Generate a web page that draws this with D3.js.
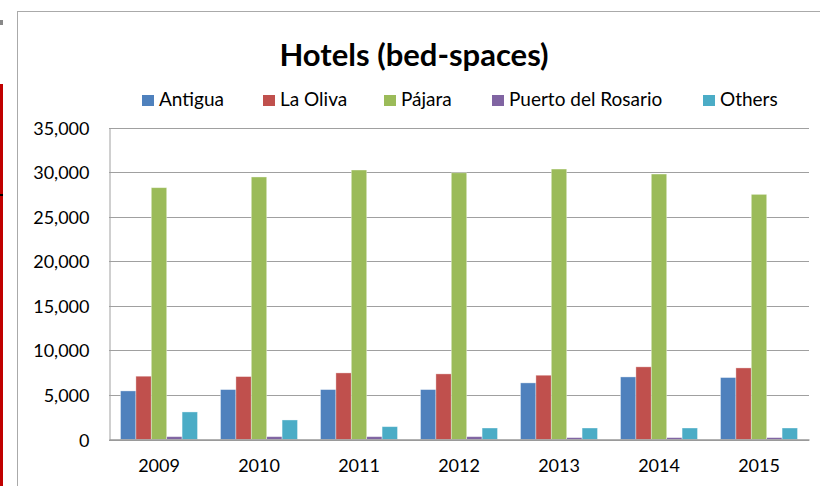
<!DOCTYPE html>
<html>
<head>
<meta charset="utf-8">
<script src="https://cdn.jsdelivr.net/npm/d3@7"></script>
<style>
  body { margin: 0; background: #fff; }
  svg { display: block; }
  text { font-family: Lato, "Open Sans", sans-serif; fill: #000; }
</style>
</head>
<body>
<svg width="820" height="486"></svg>
<script>
  // data
  const years = ["2009", "2010", "2011", "2012", "2013", "2014", "2015"];
  const series = ["Antigua", "La Oliva", "Pájara", "Puerto del Rosario", "Others"];
  const antigua = [5450, 5600, 5600, 5600, 6350, 7020, 6950];
  const laOliva = [7100, 7060, 7470, 7360, 7210, 8150, 8030];
  const pajara = [28250, 29450, 30230, 29920, 30340, 29780, 27500];
  const puerto = [320, 320, 320, 320, 210, 210, 210];
  const others = [3090, 2190, 1440, 1290, 1290, 1290, 1290];
  const yTicks = [0, 5000, 10000, 15000, 20000, 25000, 30000, 35000];
  const colors = ["#4F81BD", "#C0504D", "#9BBB59", "#8064A2", "#4BACC6"];

  const values = [antigua, laOliva, pajara, puerto, others];

  const svg = d3.select("svg");

  // page decorations around the chart frame
  svg.append("rect").attr("x", 0).attr("y", 84).attr("width", 3).attr("height", 402).attr("fill", "#C00000");
  svg.append("rect").attr("x", 0).attr("y", 194).attr("width", 3).attr("height", 2).attr("fill", "#000");
  svg.append("rect").attr("x", 0).attr("y", 20).attr("width", 3).attr("height", 5).attr("fill", "#888");
  svg.append("rect")
    .attr("x", 17.5).attr("y", 11.5)
    .attr("width", 820).attr("height", 500)
    .attr("fill", "#fff").attr("stroke", "#aaa").attr("stroke-width", 1);

  const plotLeft = 109, plotRight = 809, plotTop = 127.5, plotBottom = 439.5;

  const x = d3.scaleBand().domain(years).range([plotLeft, plotRight]);
  const xInner = d3.scaleBand().domain(series).range([11.5, 88.5]);
  const y = d3.scaleLinear().domain([0, 35000]).range([plotBottom, plotTop]);

  // gridlines
  svg.append("g")
    .selectAll("line")
    .data(yTicks)
    .join("line")
    .attr("x1", plotLeft).attr("x2", plotRight)
    .attr("y1", d => Math.round(y(d)) + 0.5).attr("y2", d => Math.round(y(d)) + 0.5)
    .attr("stroke", "#a0a0a0");

  // y axis
  const yAxis = svg.append("g")
    .attr("transform", `translate(${plotLeft + 0.5},0)`)
    .call(d3.axisLeft(y).tickValues(yTicks).tickFormat(d3.format(",")).tickSize(0).tickPadding(20));
  yAxis.select(".domain").attr("stroke", "#a0a0a0");
  yAxis.selectAll("text").style("font-size", "18px").attr("dy", "0.36em");
  yAxis.selectAll(".tick").attr("transform", d => `translate(0,${Math.round(y(d)) + 0.5})`);

  // bars
  const groups = svg.append("g")
    .selectAll("g")
    .data(series)
    .join("g")
    .attr("fill", (d, i) => colors[i]);

  groups.selectAll("rect")
    .data((s, i) => values[i].map((v, j) => ({ s, year: years[j], v })))
    .join("rect")
    .attr("x", d => x(d.year) + xInner(d.s))
    .attr("width", xInner.bandwidth())
    .attr("y", d => y(d.v))
    .attr("height", d => y(0) - y(d.v))
    .attr("stroke", "rgba(255,255,255,0.45)")
    .attr("stroke-width", 0.8);

  // x axis
  const xAxis = svg.append("g")
    .attr("transform", `translate(0,${plotBottom})`)
    .call(d3.axisBottom(x).tickSize(0).tickPadding(20));
  xAxis.select(".domain").attr("stroke", "#999").attr("stroke-width", 1.5);
  xAxis.selectAll("text").style("font-size", "18px").attr("dy", "0.71em");

  // title
  svg.append("text")
    .attr("x", 414).attr("y", 66)
    .attr("text-anchor", "middle")
    .style("font-size", "31px").style("font-weight", "bold")
    .text("Hotels (bed-spaces)");

  // legend
  const legendX = [142, 263, 384, 492, 703];
  const legend = svg.append("g")
    .selectAll("g")
    .data(series)
    .join("g")
    .attr("transform", (d, i) => `translate(${legendX[i]},95)`);
  legend.append("rect")
    .attr("width", 12).attr("height", 11)
    .attr("fill", (d, i) => colors[i]);
  legend.append("text")
    .attr("x", 17).attr("y", 11)
    .style("font-size", "19px")
    .text(d => d);
</script>
</body>
</html>
